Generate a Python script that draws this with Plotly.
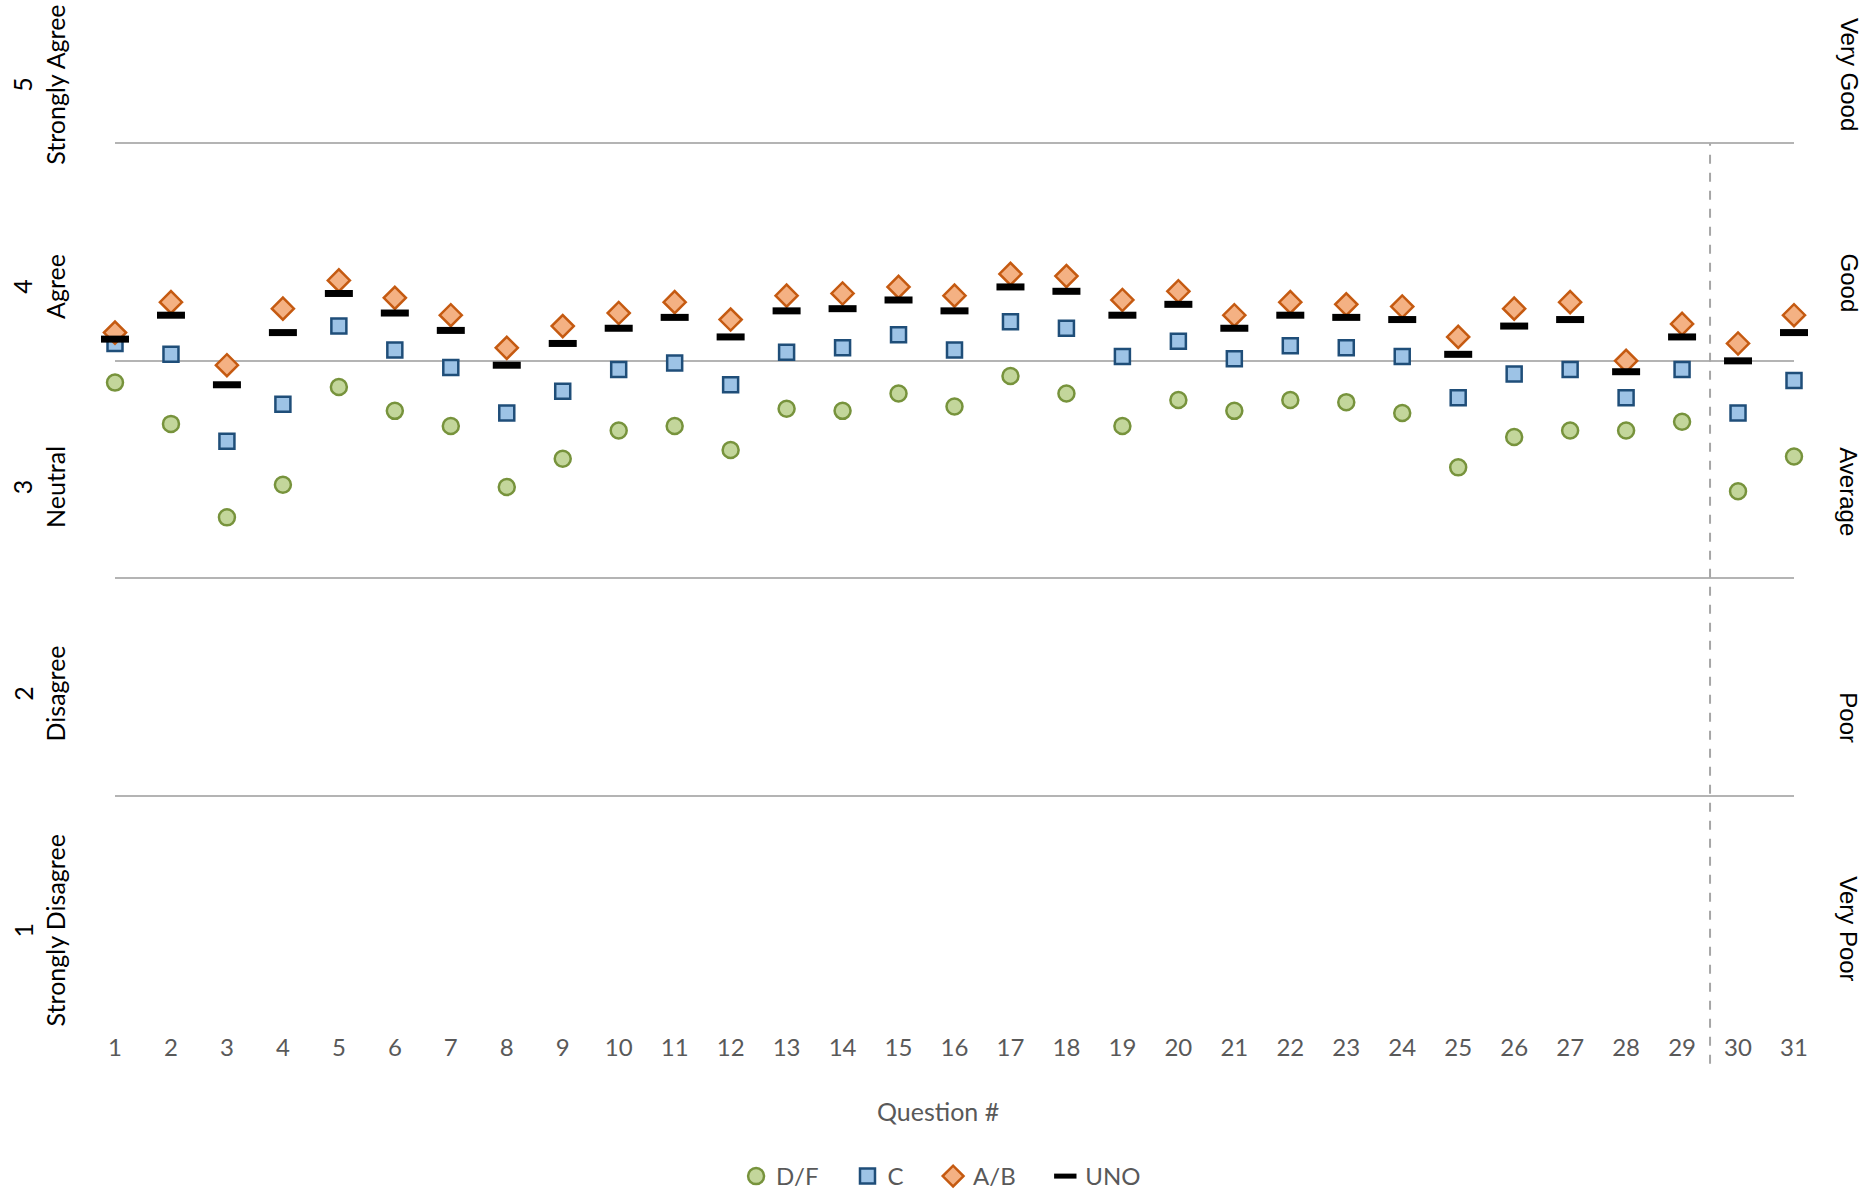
"""
Course evaluation averages by grade band.

Scatter of mean response per question for D/F, C and A/B students,
with the university-wide (UNO) mean drawn as a short black bar.
"""

import plotly.graph_objects as go

# Question numbers on the x axis
QUESTIONS = list(range(1, 32))

# Mean responses (1 = Strongly Disagree ... 5 = Strongly Agree)
DF_MEANS = [3.40, 3.21, 2.78, 2.93, 3.38, 3.27, 3.20, 2.92, 3.05, 3.18,
            3.20, 3.09, 3.28, 3.27, 3.35, 3.29, 3.43, 3.35, 3.20, 3.32,
            3.27, 3.32, 3.31, 3.26, 3.01, 3.15, 3.18, 3.18, 3.22, 2.90,
            3.06]
C_MEANS = [3.58, 3.53, 3.13, 3.30, 3.66, 3.55, 3.47, 3.26, 3.36, 3.46,
           3.49, 3.39, 3.54, 3.56, 3.62, 3.55, 3.68, 3.65, 3.52, 3.59,
           3.51, 3.57, 3.56, 3.52, 3.33, 3.44, 3.46, 3.33, 3.46, 3.26,
           3.41]
AB_MEANS = [3.63, 3.77, 3.48, 3.74, 3.87, 3.79, 3.71, 3.56, 3.66, 3.72,
            3.77, 3.69, 3.80, 3.81, 3.84, 3.80, 3.90, 3.89, 3.78, 3.82,
            3.71, 3.77, 3.76, 3.75, 3.61, 3.74, 3.77, 3.50, 3.67, 3.58,
            3.71]
UNO_MEANS = [3.60, 3.71, 3.39, 3.63, 3.81, 3.72, 3.64, 3.48, 3.58, 3.65,
             3.70, 3.61, 3.73, 3.74, 3.78, 3.73, 3.84, 3.82, 3.71, 3.76,
             3.65, 3.71, 3.70, 3.69, 3.53, 3.66, 3.69, 3.45, 3.61, 3.50,
             3.63]

# Scale labels on both sides
AGREE_LABELS = ["5<br>Strongly Agree", "4<br>Agree", "3<br>Neutral",
                "2<br>Disagree", "1<br>Strongly Disagree"]
QUALITY_LABELS = ["Very Good", "Good", "Average", "Poor", "Very Poor"]

# Where the hand-placed scale labels sit (in axis units)
AGREE_LABEL_Y = [4.77, 3.84, 2.92, 1.97, 0.88]
QUALITY_LABEL_Y = [4.82, 3.86, 2.90, 1.86, 0.89]

# Divider between question blocks
DIVIDER_X = 29.5

Y_RANGE = [0.5, 5.16]
GRID_COLOR = "#B4B4B4"
TEXT_GRAY = "#595959"

# legend entries get some trailing room, like the original spacing
PAD = "\u00a0" * 4

fig = go.Figure()

# Grade-band series
series = [
    ("D/F", DF_MEANS, dict(symbol="circle", size=16, color="#C3D69B",
                           line=dict(color="#77933C", width=2.5)), PAD),
    ("C", C_MEANS, dict(symbol="square", size=15, color="#9DC3E6",
                        line=dict(color="#1F4E79", width=2.5)), PAD),
    ("A/B", AB_MEANS, dict(symbol="diamond", size=17, color="#F4B183",
                           line=dict(color="#C55A11", width=2.5)), PAD),
    ("UNO", UNO_MEANS, dict(symbol="line-ew", size=20, color="black",
                            line=dict(color="black", width=7)), ""),
]
for name, values, marker, pad in series:
    fig.add_trace(go.Scatter(
        x=QUESTIONS,
        y=values,
        mode="markers",
        name=name + pad,
        marker=marker,
        cliponaxis=False,
        hovertemplate="Q%{x}: %{y:.2f}<extra>" + name + "</extra>",
    ))

# Dashed divider, running down through the tick labels
plot_span = Y_RANGE[1] - Y_RANGE[0]
fig.add_shape(
    type="line",
    xref="x", yref="paper",
    x0=DIVIDER_X, x1=DIVIDER_X,
    y0=-0.05, y1=(4.5 - Y_RANGE[0]) / plot_span,
    line=dict(color="#A6A6A6", width=2, dash="dash"),
)

# Left-hand agreement labels
for text, y in zip(AGREE_LABELS, AGREE_LABEL_Y):
    fig.add_annotation(
        text=text, xref="paper", yref="y", x=0, y=y,
        xanchor="center", yanchor="middle", xshift=-76,
        textangle=-90, showarrow=False,
        font=dict(family="Lato, Open Sans, sans-serif", size=25, color="black"),
    )

# Right-hand quality labels
for text, y in zip(QUALITY_LABELS, QUALITY_LABEL_Y):
    fig.add_annotation(
        text=text, xref="paper", yref="y", x=1, y=y,
        xanchor="center", yanchor="middle", xshift=55,
        textangle=90, showarrow=False,
        font=dict(family="Liberation Sans, Arial, sans-serif", size=24,
                  color="black"),
    )

# Axis title sits a little left of the plot centre in the original
fig.add_annotation(
    text="Question #", xref="paper", yref="paper", x=0.49, y=-0.097,
    xanchor="center", yanchor="middle", showarrow=False,
    font=dict(size=25, color=TEXT_GRAY),
)

fig.update_layout(
    width=1873,
    height=1192,
    margin=dict(l=115, r=79, t=0, b=179),
    plot_bgcolor="white",
    paper_bgcolor="white",
    font=dict(family="Lato, Open Sans, sans-serif", size=24, color=TEXT_GRAY),
    showlegend=True,
    legend=dict(
        orientation="h",
        xref="paper", yref="container",
        x=0.492, y=0.013,
        xanchor="center", yanchor="middle",
        font=dict(size=24, color=TEXT_GRAY),
        traceorder="normal",
    ),
    xaxis=dict(
        range=[1, 31],
        tickmode="array",
        tickvals=QUESTIONS,
        showgrid=False,
        zeroline=False,
        showline=False,
        ticks="",
        ticklabelstandoff=18,
        tickfont=dict(size=24, color=TEXT_GRAY),
    ),
    yaxis=dict(
        range=Y_RANGE,
        tick0=0.5,
        dtick=1,
        showticklabels=False,
        showgrid=True,
        gridcolor=GRID_COLOR,
        gridwidth=2,
        zeroline=False,
        showline=False,
        ticks="",
    ),
)

# page margin would push the fixed-size figure off the window
fig.write_html(
    "out.html",
    config={"displayModeBar": False},
    post_script="document.body.style.margin='0';"
                "document.body.style.overflow='hidden';",
)
